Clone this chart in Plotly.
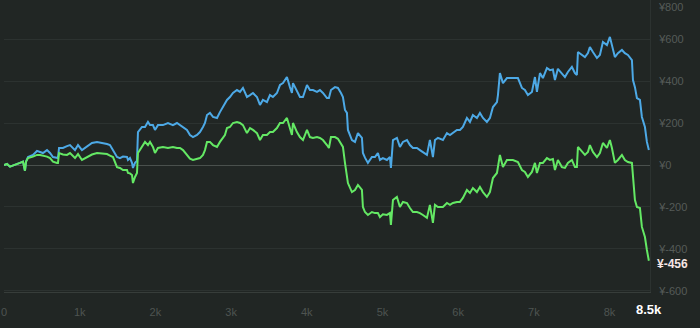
import plotly.graph_objects as go

# Trade index (x) and cumulative P&L of the two strategies (¥)
trade_idx = [0, 40, 79, 119, 172, 211, 251, 277, 291, 317, 383, 436, 476, 515, 568, 608, 647, 700, 713,
             727, 779, 832, 872, 938, 978, 1030, 1096, 1162, 1229, 1308, 1361, 1400, 1440, 1493, 1532,
             1572, 1625, 1638, 1664, 1691, 1704, 1731, 1757, 1770, 1823, 1863, 1902, 1929, 1968, 1995,
             2034, 2100, 2166, 2232, 2285, 2325, 2365, 2417, 2457, 2497, 2550, 2589, 2629, 2655, 2682,
             2721, 2761, 2814, 2853, 2893, 2919, 2946, 2985, 3025, 3078, 3118, 3157, 3210, 3250, 3289,
             3342, 3382, 3421, 3474, 3514, 3553, 3606, 3646, 3686, 3738, 3778, 3804, 3818, 3870, 3910,
             3950, 4003, 4042, 4082, 4135, 4174, 4214, 4267, 4293, 4320, 4373, 4412, 4452, 4478, 4505,
             4531, 4544, 4597, 4637, 4676, 4729, 4742, 4769, 4808, 4861, 4901, 4940, 4967, 5006, 5059,
             5099, 5112, 5139, 5191, 5231, 5271, 5324, 5363, 5403, 5456, 5495, 5535, 5588, 5627, 5667,
             5694, 5733, 5799, 5852, 5892, 5931, 5984, 6024, 6063, 6116, 6156, 6195, 6248, 6288, 6328,
             6380, 6420, 6460, 6513, 6526, 6552, 6592, 6645, 6684, 6724, 6790, 6843, 6882, 6922, 6975,
             7015, 7041, 7081, 7120, 7173, 7213, 7252, 7279, 7318, 7371, 7411, 7450, 7503, 7543, 7569,
             7583, 7635, 7675, 7715, 7741, 7781, 7834, 7873, 7913, 7966, 8005, 8032, 8071, 8111, 8164,
             8203, 8243, 8296, 8310, 8336, 8362, 8402, 8428, 8468, 8494, 8520]

pnl_gross = [0, 5, -8, -3, 2, 10, 16, -27, 16, 38, 48, 67, 62, 57, 71, 57, 38, 33, 33,
             81, 81, 90, 95, 71, 95, 71, 86, 105, 110, 105, 100, 95, 71, 38, 33,
             40, 38, 24, 33, 10, -14, 10, 20, 157, 181, 181, 205, 190, 190, 167,
             190, 190, 200, 190, 200, 190, 181, 167, 143, 133, 143, 157, 181, 200, 238,
             248, 229, 224, 252, 276, 295, 310, 324, 343, 357, 348, 367, 324, 333, 343,
             324, 286, 310, 300, 333, 324, 343, 381, 390, 419, 371, 343, 390, 348, 324,
             324, 381, 357, 357, 348, 357, 343, 319, 319, 357, 371, 367, 343, 324, 262,
             248, 167, 119, 110, 152, 129, 57, 35, 10, 38, 38, 57, 24, 33, 24,
             38, -14, 119, 129, 86, 110, 119, 95, 81, 81, 71, 62, 48, 119, 38,
             119, 129, 119, 152, 143, 152, 167, 167, 181, 224, 205, 238, 224, 248, 224,
             205, 224, 276, 300, 333, 438, 390, 414, 414, 414, 414, 367, 357, 333, 348,
             419, 348, 438, 414, 462, 452, 455, 405, 458, 438, 419, 443, 467, 438, 429,
             538, 524, 514, 533, 562, 538, 510, 524, 586, 571, 610, 571, 514, 533, 548,
             533, 524, 500, 405, 371, 319, 310, 229, 181, 110, 71]

pnl_net = [0, 5, -8, -3, 2, 10, 16, -27, 16, 33, 40, 48, 48, 45, 40, 33, 16, 10, 10,
           57, 50, 48, 57, 33, 52, 24, 38, 50, 57, 55, 52, 45, 38, -10, -14,
           -24, -24, -38, -40, -48, -86, -57, -38, 57, 86, 110, 95, 110, 86, 57,
           81, 86, 81, 86, 81, 81, 71, 48, 30, 24, 28, 33, 48, 71, 110,
           110, 95, 86, 110, 129, 143, 176, 181, 200, 205, 200, 190, 152, 176, 167,
           152, 119, 143, 143, 157, 157, 176, 200, 200, 224, 181, 143, 200, 157, 133,
           119, 167, 133, 129, 133, 129, 119, 95, 81, 133, 133, 125, 105, 86, 10,
           -60, -86, -129, -119, -95, -119, -200, -224, -238, -224, -229, -229, -248, -235, -238,
           -229, -286, -167, -152, -200, -176, -181, -205, -224, -224, -229, -238, -252, -190, -276,
           -190, -200, -200, -181, -190, -181, -176, -176, -157, -119, -133, -110, -129, -105, -129,
           -152, -129, -62, -38, -10, 48, -10, 24, 24, 24, 14, -24, -33, -57, -33,
           10, -38, 10, 10, 33, 24, 28, -24, 24, -10, -14, 10, 24, -10, -10,
           86, 62, 48, 62, 95, 62, 38, 57, 105, 81, 119, 81, 10, 24, 48,
           24, 14, 10, -71, -167, -200, -205, -295, -343, -405, -456]

y_ticks = [-600, -400, -200, 0, 200, 400, 600]
y_tick_text = ["¥-600", "¥-400", "¥-200", "¥0", "¥200", "¥400", "¥600"]
x_ticks = [0, 1000, 2000, 3000, 4000, 5000, 6000, 7000, 8000]
x_tick_text = ["0", "1k", "2k", "3k", "4k", "5k", "6k", "7k", "8k"]

BG = "#212624"
GRID = "#2c3230"
LABEL = "#555b58"
FONT = "Liberation Sans, Arial, sans-serif"

fig = go.Figure()
fig.add_trace(go.Scatter(x=trade_idx, y=pnl_gross, mode="lines",
                         line=dict(color="#4da9e6", width=2), hoverinfo="skip"))
fig.add_trace(go.Scatter(x=trade_idx, y=pnl_net, mode="lines",
                         line=dict(color="#64e864", width=2), hoverinfo="skip"))

last_x = trade_idx[-1]
last_y = pnl_net[-1]

fig.update_layout(
    width=700, height=328,
    margin=dict(l=4, r=50, t=0, b=36),
    paper_bgcolor=BG, plot_bgcolor=BG,
    showlegend=False,
    font=dict(family=FONT, size=11, color=LABEL),
    xaxis=dict(range=[0, 8535], tickvals=x_ticks, ticktext=x_tick_text,
               showgrid=False, zeroline=False, showline=True, linecolor="#373d3a",
               linewidth=1, ticks="", ticklabelstandoff=10,
               tickfont=dict(size=11, color="#4e5451")),
    yaxis=dict(range=[-605, 786], side="right", tickvals=y_ticks, ticktext=y_tick_text,
               showgrid=True, gridcolor=GRID, gridwidth=1,
               zeroline=True, zerolinecolor="#4a504d", zerolinewidth=1,
               showline=True, linecolor=GRID, mirror=False,
               ticks="", ticklabelstandoff=6,
               tickfont=dict(size=11, color=LABEL)),
    annotations=[
        dict(text="¥800", xref="paper", yref="paper", x=1, y=1, xanchor="left",
             yanchor="middle", xshift=6, yshift=-7, showarrow=False,
             font=dict(size=11, color=LABEL, family=FONT)),
        dict(text=f"¥{last_y}", xref="paper", yref="y", x=1, y=last_y, xanchor="left",
             yanchor="top", xshift=5, yshift=6, showarrow=False,
             font=dict(size=12, color="#f7e6e6", family=FONT, weight="bold")),
        dict(text=f"{last_x / 1000:.1f}k", xref="x", yref="paper", x=last_x, y=0,
             xanchor="center", yanchor="middle", yshift=-17, showarrow=False,
             bgcolor=BG, font=dict(size=13, color="#ffffff", family=FONT, weight="bold")),
    ],
)

fig.write_html("out.html")
